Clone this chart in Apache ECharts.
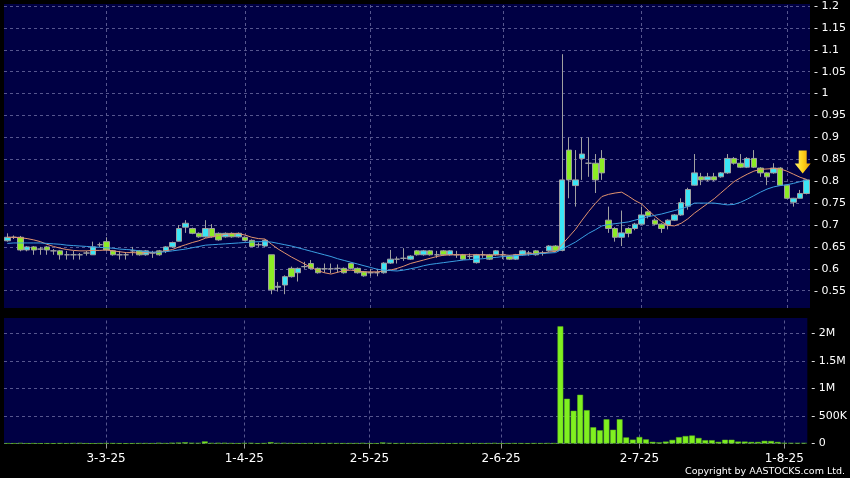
<!DOCTYPE html>
<html>
<head>
<meta charset="utf-8">
<script src="https://cdn.jsdelivr.net/npm/echarts@6/dist/echarts.min.js"></script>
<style>html,body{margin:0;padding:0;background:#000;}#c{width:850px;height:478px;}</style>
</head>
<body>
<div id="c"></div>
<script>
const dates = [
'2025-02-10','2025-02-11','2025-02-12','2025-02-13','2025-02-14','2025-02-17','2025-02-18','2025-02-19','2025-02-20','2025-02-21',
'2025-02-24','2025-02-25','2025-02-26','2025-02-27','2025-02-28',
'2025-03-03','2025-03-04','2025-03-05','2025-03-06','2025-03-07','2025-03-10','2025-03-11','2025-03-12','2025-03-13','2025-03-14',
'2025-03-17','2025-03-18','2025-03-19','2025-03-20','2025-03-21','2025-03-24','2025-03-25','2025-03-26','2025-03-27','2025-03-28','2025-03-31',
'2025-04-01','2025-04-02','2025-04-03','2025-04-07','2025-04-08','2025-04-09','2025-04-10','2025-04-11','2025-04-14','2025-04-15',
'2025-04-16','2025-04-17','2025-04-22','2025-04-23','2025-04-24','2025-04-25','2025-04-28','2025-04-29','2025-04-30',
'2025-05-02','2025-05-06','2025-05-07','2025-05-08','2025-05-09','2025-05-12','2025-05-13','2025-05-14','2025-05-15','2025-05-16',
'2025-05-19','2025-05-20','2025-05-21','2025-05-22','2025-05-23','2025-05-26','2025-05-27','2025-05-28','2025-05-29','2025-05-30',
'2025-06-02','2025-06-03','2025-06-04','2025-06-05','2025-06-06','2025-06-09','2025-06-10','2025-06-11','2025-06-12','2025-06-13',
'2025-06-16','2025-06-17','2025-06-18','2025-06-19','2025-06-20','2025-06-23','2025-06-24','2025-06-25','2025-06-26','2025-06-27','2025-06-30',
'2025-07-02','2025-07-03','2025-07-04','2025-07-07','2025-07-08','2025-07-09','2025-07-10','2025-07-11','2025-07-14','2025-07-15',
'2025-07-16','2025-07-17','2025-07-18','2025-07-21','2025-07-22','2025-07-23','2025-07-24','2025-07-25','2025-07-28','2025-07-29',
'2025-07-30','2025-07-31','2025-08-01','2025-08-04','2025-08-05','2025-08-06'
];
const opens = [
0.664,0.672,0.672,0.643,0.650,0.645,0.650,0.641,0.641,0.632,
0.632,0.632,0.636,0.632,0.655,0.662,0.641,0.632,0.632,0.641,
0.641,0.632,0.636,0.641,0.641,0.650,0.663,0.695,0.692,0.681,
0.673,0.692,0.681,0.673,0.681,0.673,0.672,0.665,0.655,0.652,
0.632,0.558,0.563,0.601,0.591,0.605,0.612,0.601,0.600,0.600,
0.601,0.601,0.612,0.601,0.593,0.591,0.591,0.591,0.613,0.622,
0.624,0.622,0.641,0.632,0.641,0.632,0.641,0.632,0.632,0.632,
0.628,0.614,0.632,0.632,0.632,0.632,0.629,0.622,0.632,0.636,
0.641,0.636,0.641,0.652,0.642,0.871,0.790,0.852,0.841,0.841,
0.852,0.711,0.692,0.672,0.692,0.692,0.702,0.730,0.711,0.702,
0.700,0.711,0.723,0.743,0.791,0.810,0.803,0.810,0.810,0.819,
0.852,0.841,0.832,0.852,0.830,0.819,0.819,0.830,0.791,0.752,
0.761,0.772
];
const closes = [
0.672,0.672,0.643,0.650,0.643,0.645,0.643,0.641,0.632,0.632,
0.632,0.632,0.636,0.650,0.655,0.643,0.632,0.632,0.632,0.641,
0.632,0.641,0.636,0.632,0.650,0.660,0.692,0.704,0.681,0.673,
0.692,0.673,0.666,0.681,0.673,0.681,0.665,0.651,0.655,0.665,
0.552,0.560,0.582,0.582,0.601,0.605,0.601,0.591,0.600,0.600,
0.601,0.591,0.601,0.591,0.584,0.591,0.591,0.613,0.622,0.622,
0.624,0.629,0.632,0.641,0.632,0.632,0.632,0.641,0.632,0.622,
0.628,0.632,0.632,0.622,0.641,0.632,0.622,0.632,0.641,0.636,
0.632,0.636,0.652,0.641,0.803,0.803,0.803,0.862,0.841,0.803,
0.819,0.692,0.672,0.682,0.681,0.702,0.723,0.721,0.702,0.692,
0.711,0.723,0.751,0.781,0.819,0.803,0.810,0.803,0.819,0.852,
0.841,0.832,0.852,0.832,0.819,0.810,0.830,0.791,0.761,0.761,
0.772,0.803
];
const lows = [
0.662,0.668,0.640,0.640,0.632,0.632,0.632,0.632,0.621,0.621,
0.621,0.621,0.630,0.632,0.650,0.641,0.630,0.621,0.621,0.630,
0.630,0.630,0.625,0.630,0.636,0.648,0.662,0.682,0.679,0.671,
0.671,0.671,0.664,0.671,0.671,0.671,0.663,0.650,0.650,0.650,
0.542,0.548,0.542,0.580,0.571,0.600,0.599,0.589,0.591,0.590,
0.591,0.589,0.599,0.589,0.582,0.583,0.583,0.589,0.611,0.612,
0.618,0.620,0.630,0.630,0.630,0.625,0.630,0.630,0.625,0.620,
0.622,0.612,0.625,0.620,0.630,0.622,0.620,0.620,0.630,0.630,
0.630,0.630,0.639,0.639,0.640,0.761,0.742,0.803,0.810,0.773,
0.803,0.682,0.662,0.652,0.672,0.688,0.700,0.715,0.700,0.682,
0.690,0.709,0.721,0.735,0.790,0.791,0.800,0.800,0.808,0.817,
0.838,0.830,0.830,0.830,0.810,0.791,0.817,0.790,0.760,0.742,
0.760,0.770
];
const highs = [
0.681,0.676,0.675,0.652,0.652,0.650,0.652,0.645,0.643,0.641,
0.641,0.636,0.641,0.662,0.660,0.672,0.643,0.641,0.636,0.650,
0.643,0.643,0.641,0.643,0.652,0.662,0.700,0.711,0.694,0.683,
0.711,0.702,0.683,0.683,0.683,0.683,0.674,0.667,0.660,0.667,
0.632,0.570,0.585,0.605,0.603,0.616,0.620,0.603,0.612,0.612,
0.610,0.603,0.614,0.603,0.595,0.600,0.600,0.615,0.643,0.628,
0.647,0.631,0.643,0.643,0.643,0.641,0.643,0.643,0.641,0.634,
0.635,0.634,0.641,0.634,0.643,0.641,0.631,0.634,0.643,0.641,
0.643,0.641,0.654,0.654,1.090,0.900,0.871,0.900,0.900,0.862,
0.871,0.742,0.695,0.733,0.695,0.705,0.742,0.733,0.715,0.704,
0.713,0.725,0.761,0.785,0.862,0.819,0.819,0.819,0.821,0.862,
0.855,0.862,0.855,0.871,0.832,0.820,0.841,0.832,0.792,0.762,
0.780,0.805
];
const volumes = [
3000,2000,8000,2000,3000,1000,2000,1000,4000,2000,
6000,8000,2000,1000,3000,5000,4000,2000,1000,2000,
4000,5000,3000,12000,4000,14000,16000,22000,12000,10000,
38000,8000,12000,12000,6000,3000,8000,10000,2000,5000,
24000,8000,10000,6000,4000,3000,5000,4000,3000,6000,
4000,3000,4000,5000,8000,3000,2000,18000,8000,3000,
4000,3000,5000,3000,2000,6000,3000,2000,3000,4000,
2000,5000,3000,4000,8000,2000,3000,4000,3000,2000,
4000,3000,6000,5000,2127000,812000,594000,885000,605000,295000,
240000,440000,250000,440000,110000,70000,118000,75000,30000,20000,
35000,65000,115000,135000,145000,100000,60000,60000,30000,68000,
68000,35000,35000,28000,28000,48000,45000,28000,12000,10000,
10000,10000
];
const ma10 = [
0.672,0.672,0.671,0.669,0.666,0.662,0.656,0.651,0.647,0.644,
0.642,0.641,0.641,0.642,0.642,0.643,0.641,0.639,0.637,0.637,
0.636,0.637,0.637,0.639,0.641,0.644,0.650,0.655,0.660,0.664,
0.670,0.673,0.676,0.679,0.680,0.680,0.677,0.672,0.669,0.668,
0.656,0.645,0.636,0.627,0.619,0.611,0.603,0.596,0.591,0.588,
0.592,0.596,0.597,0.595,0.593,0.593,0.593,0.595,0.597,0.601,
0.606,0.612,0.616,0.620,0.624,0.628,0.631,0.632,0.632,0.632,
0.632,0.632,0.632,0.631,0.632,0.632,0.631,0.632,0.633,0.634,
0.635,0.636,0.638,0.640,0.656,0.673,0.690,0.711,0.731,0.749,
0.765,0.770,0.773,0.775,0.766,0.756,0.748,0.734,0.720,0.708,
0.699,0.698,0.704,0.714,0.727,0.738,0.749,0.760,0.773,0.786,
0.799,0.808,0.816,0.823,0.827,0.828,0.829,0.828,0.823,0.816,
0.809,0.804
];
const ma20 = [
0.658,0.659,0.659,0.659,0.659,0.659,0.658,0.657,0.656,0.654,
0.653,0.652,0.651,0.650,0.649,0.648,0.647,0.645,0.644,0.643,
0.641,0.639,0.638,0.638,0.639,0.641,0.643,0.645,0.648,0.651,
0.654,0.655,0.656,0.657,0.658,0.659,0.660,0.661,0.662,0.662,
0.661,0.658,0.655,0.652,0.648,0.644,0.640,0.636,0.632,0.628,
0.623,0.619,0.615,0.611,0.607,0.603,0.599,0.597,0.596,0.595,
0.597,0.600,0.603,0.607,0.610,0.612,0.614,0.616,0.618,0.620,
0.621,0.622,0.623,0.625,0.626,0.628,0.629,0.630,0.631,0.632,
0.634,0.635,0.636,0.637,0.645,0.653,0.661,0.671,0.681,0.689,
0.698,0.701,0.703,0.705,0.707,0.711,0.715,0.719,0.722,0.725,
0.729,0.733,0.737,0.742,0.750,0.750,0.750,0.750,0.748,0.746,
0.747,0.752,0.759,0.767,0.775,0.782,0.787,0.790,0.792,0.795,
0.799,0.803
];
const labelDates = ['2025-03-03','2025-04-01','2025-05-02','2025-06-02','2025-07-02','2025-08-01'];
const priceTicks = [0.55,0.6,0.65,0.7,0.75,0.8,0.85,0.9,0.95,1,1.05,1.1,1.15,1.2];
const volumeTicks = [0,500000,1000000,1500000,2000000];
const volumeTickText = ['0','500K','1M','1.5M','2M'];
const arrowDate = '2025-08-06';
const arrowPrice = 0.805;

const candles = dates.map((d, i) => [opens[i], closes[i], lows[i], highs[i]]);

const GRID_BG = '#000044';
const SPLIT = '#56568e';
const FONT = 'DejaVu Sans';

function fmtDate(s) {
  const p = s.split('-');
  return (+p[2]) + '-' + (+p[1]) + '-' + p[0].slice(2);
}
function priceLabel(v) {
  for (const t of priceTicks) if (Math.abs(v - t) < 1e-6) return '- ' + String(t);
  return '';
}
function volLabel(v) {
  for (let k = 0; k < volumeTicks.length; k++) if (Math.abs(v - volumeTicks[k]) < 1) return '- ' + volumeTickText[k];
  return '';
}
const vLines = {
  silent: true, symbol: 'none', z: 1, animation: false,
  label: { show: false },
  lineStyle: { color: SPLIT, type: [3, 3], width: 1 },
  data: labelDates.map(d => ({ xAxis: d }))
};

const chart = echarts.init(document.getElementById('c'), null, { renderer: 'canvas' });
chart.setOption({
  backgroundColor: '#000000',
  animation: false,
  grid: [
    { left: 4, right: 40, top: 4, height: 304, show: true, backgroundColor: GRID_BG, borderWidth: 0 },
    { left: 4, right: 40, top: 318, height: 125.5, show: true, backgroundColor: GRID_BG, borderWidth: 0 }
  ],
  xAxis: [
    { type: 'category', gridIndex: 0, data: dates, boundaryGap: true,
      axisLine: { show: false }, axisTick: { show: false }, axisLabel: { show: false }, splitLine: { show: false } },
    { type: 'category', gridIndex: 1, data: dates, boundaryGap: true,
      axisLine: { show: false },
      axisTick: { show: true, alignWithLabel: true, length: 5, lineStyle: { color: '#9a9a9a' },
        interval: (i, v) => labelDates.indexOf(v) >= 0 },
      axisLabel: { show: true, color: '#ffffff', fontFamily: FONT, fontSize: 12, margin: 9,
        interval: (i, v) => labelDates.indexOf(v) >= 0, formatter: v => fmtDate(v) },
      splitLine: { show: false } }
  ],
  yAxis: [
    { type: 'value', gridIndex: 0, position: 'right', min: 0.5105, max: 1.2046, splitNumber: 14, scale: true,
      axisLine: { show: false }, axisTick: { show: false },
      axisLabel: { color: '#ffffff', fontFamily: FONT, fontSize: 11, margin: 4, formatter: priceLabel,
        showMinLabel: false, showMaxLabel: false },
      splitLine: { show: true, showMinLine: false, showMaxLine: false, lineStyle: { color: SPLIT, type: [3, 3], width: 1 } } },
    { type: 'value', gridIndex: 1, position: 'right', min: 0, max: 2278000, interval: 500000,
      axisLine: { show: false }, axisTick: { show: false },
      axisLabel: { color: '#ffffff', fontFamily: FONT, fontSize: 11, margin: 4, formatter: volLabel, showMaxLabel: false },
      splitLine: { show: true, showMaxLine: false, lineStyle: { color: SPLIT, type: [3, 3], width: 1 } } }
  ],
  series: [
    { type: 'candlestick', xAxisIndex: 0, yAxisIndex: 0, data: candles, barWidth: '90%',
      itemStyle: { color: '#3ae6f6', color0: '#8cec24', borderColor: '#a0a0a0', borderColor0: '#a0a0a0', borderWidth: 1 },
      markLine: vLines,
      markPoint: {
        silent: true, animation: false,
        label: { show: false },
        data: [{
          coord: [arrowDate, arrowPrice],
          symbol: 'path://M4,0 L12,0 L12,13 L16,13 L8,23 L0,13 L4,13 Z',
          symbolSize: [16, 23], symbolOffset: [-4, -17], symbolKeepAspect: false,
          itemStyle: { color: new echarts.graphic.LinearGradient(0, 0, 1, 0, [
            { offset: 0, color: '#fff36a' }, { offset: 0.5, color: '#ffd21c' }, { offset: 1, color: '#e89a08' }]) }
        }]
      }
    },
    { type: 'line', xAxisIndex: 0, yAxisIndex: 0, data: ma10, showSymbol: false, smooth: false,
      lineStyle: { color: '#e2936e', width: 1 }, z: 3 },
    { type: 'line', xAxisIndex: 0, yAxisIndex: 0, data: ma20, showSymbol: false, smooth: false,
      lineStyle: { color: '#3a9fe2', width: 1 }, z: 3 },
    { type: 'bar', xAxisIndex: 1, yAxisIndex: 1, data: volumes, barCategoryGap: '12%',
      itemStyle: { color: '#80f020', borderColor: '#5cb818', borderWidth: 0.5 },
      markLine: vLines }
  ],
  graphic: [
    { type: 'text', right: 5, bottom: 1,
      style: { text: 'Copyright by AASTOCKS.com Ltd.', fill: '#ffffff', font: '9.5px "DejaVu Sans"' } }
  ]
});
</script>
</body>
</html>
